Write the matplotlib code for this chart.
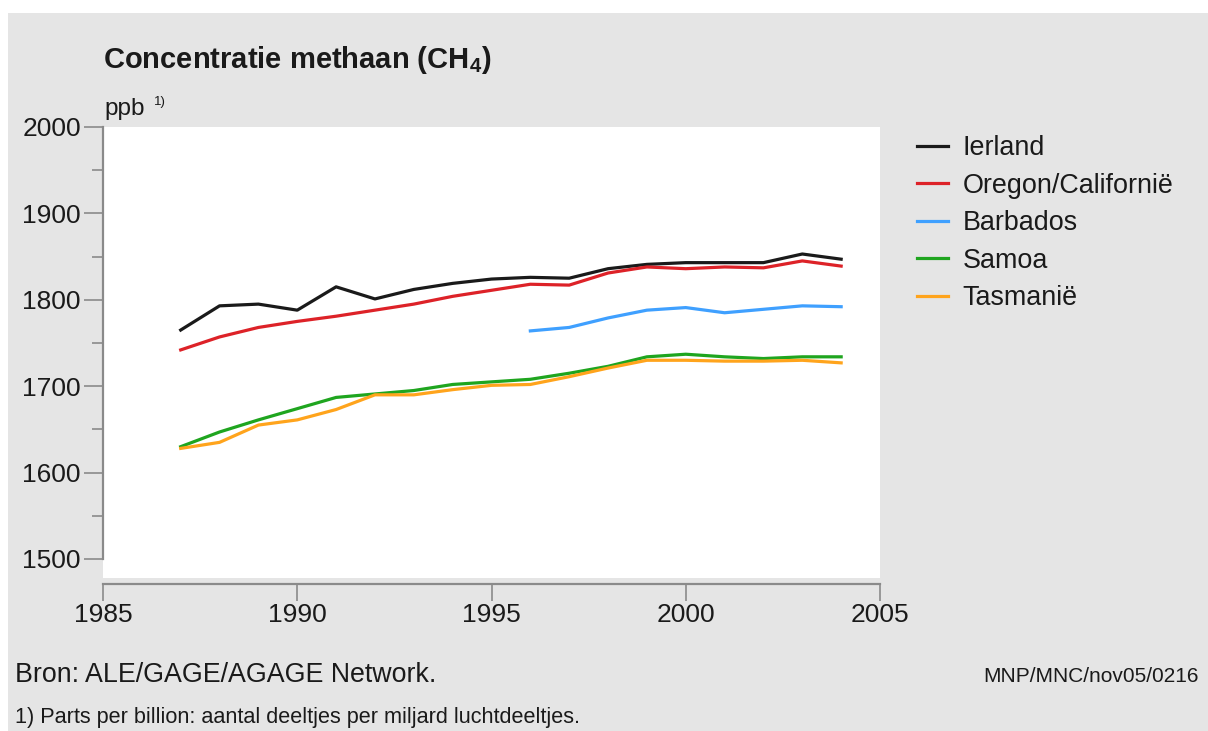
import matplotlib
matplotlib.use("Agg")
import matplotlib.pyplot as plt
from matplotlib.patches import Rectangle
import numpy as np

years_full = list(range(1987, 2005))
years_barbados = list(range(1996, 2005))

ierland = [1765, 1793, 1795, 1788, 1815, 1801, 1812, 1819, 1824,
           1826, 1825, 1836, 1841, 1843, 1843, 1843, 1853, 1847]
oregon = [1742, 1757, 1768, 1775, 1781, 1788, 1795, 1804, 1811,
          1818, 1817, 1831, 1838, 1836, 1838, 1837, 1845, 1839]
barbados = [1764, 1768, 1779, 1788, 1791, 1785, 1789, 1793, 1792]
samoa = [1630, 1647, 1661, 1674, 1687, 1691, 1695, 1702, 1705,
         1708, 1715, 1723, 1734, 1737, 1734, 1732, 1734, 1734]
tasmanie = [1628, 1635, 1655, 1661, 1673, 1690, 1690, 1696, 1701,
            1702, 1711, 1721, 1730, 1730, 1729, 1729, 1730, 1727]

series_names = ["Ierland", "Oregon/Californië", "Barbados", "Samoa", "Tasmanië"]
series_colors = ["#1a1a1a", "#dd2228", "#3fa0ff", "#1fa51f", "#ffa41c"]

x_ticks = [1985, 1990, 1995, 2000, 2005]
y_ticks = [1500, 1600, 1700, 1800, 1900, 2000]

W, H = 1208, 731
fig = plt.figure(figsize=(W / 100, H / 100), dpi=100)
fig.patch.set_facecolor("white")
# gray panel
fig.patches.append(Rectangle((8 / W, 0), 1 - 8 / W, 1 - 13 / H,
                             transform=fig.transFigure, facecolor="#e5e5e5",
                             edgecolor="none", zorder=-10))

left, right = 103 / W, 880 / W
top, bottom = 1 - 127 / H, 1 - 578 / H
ax = fig.add_axes([left, bottom, right - left, top - bottom])
ax.set_facecolor("white")

data = [(years_full, ierland), (years_full, oregon), (years_barbados, barbados),
        (years_full, samoa), (years_full, tasmanie)]
for (xs, ys), name, col in zip(data, series_names, series_colors):
    ax.plot(xs, ys, color=col, lw=2.3, label=name, solid_joinstyle="round")

sans = ["Liberation Sans", "DejaVu Sans"]
spine_col = "#8a8a8a"

for s in ["top", "right"]:
    ax.spines[s].set_visible(False)
ax.spines["left"].set_color(spine_col)
ax.spines["left"].set_linewidth(1.6)
ax.spines["bottom"].set_color(spine_col)
ax.spines["bottom"].set_linewidth(1.6)
ax.spines["bottom"].set_position(("outward", 4))

ax.set_xlim(1985, 2005)
ax.set_ylim(1478, 2000)
ax.spines["left"].set_bounds(1500, 2000)
ax.set_xticks(x_ticks)
ax.set_yticks(y_ticks)
ax.set_yticks(np.arange(1550, 2000, 100), minor=True)

ax.tick_params(axis="both", which="major", labelsize=19,
               labelfontfamily="Liberation Sans", labelcolor="#1a1a1a")
ax.tick_params(axis="y", which="major", length=14, width=1.2, color=spine_col, pad=2)
ax.tick_params(axis="y", which="minor", length=8, width=1.2, color=spine_col)
ax.tick_params(axis="x", which="major", length=12, width=1.2, color=spine_col, pad=2)

# title
fig.text(103 / W, 1 - 60 / H, "Concentratie methaan (CH$_\\mathregular{4}$)",
         fontsize=21, fontweight="bold", family=sans, color="#1a1a1a",
         va="center", ha="left")
fig.text(104 / W, 1 - 109 / H, "ppb", fontsize=17.5, family=sans,
         color="#1a1a1a", va="center", ha="left")
fig.text(154 / W, 1 - 102 / H, "1)", fontsize=9.5, family=sans,
         color="#1a1a1a", va="center", ha="left")

# legend
leg = ax.legend(loc="upper left", bbox_to_anchor=(917 / W, 1 - 135 / H),
                bbox_transform=fig.transFigure, frameon=False,
                prop={"family": sans, "size": 19.4}, handlelength=1.15,
                handletextpad=0.55, labelspacing=0.43, borderaxespad=0,
                borderpad=0)
for t in leg.get_texts():
    t.set_color("#1a1a1a")

# footer
fig.text(15 / W, 1 - 675 / H, "Bron: ALE/GAGE/AGAGE Network.", fontsize=19.3,
         family=sans, color="#1a1a1a", va="center", ha="left")
fig.text(983 / W, 1 - 677 / H, "MNP/MNC/nov05/0216", fontsize=15,
         family=sans, color="#1a1a1a", va="center", ha="left")
fig.text(15 / W, 1 - 718 / H,
         "1) Parts per billion: aantal deeltjes per miljard luchtdeeltjes.",
         fontsize=15.6, family=sans, color="#1a1a1a", va="center", ha="left")

fig.savefig("out.png", dpi=100, facecolor=fig.get_facecolor())
